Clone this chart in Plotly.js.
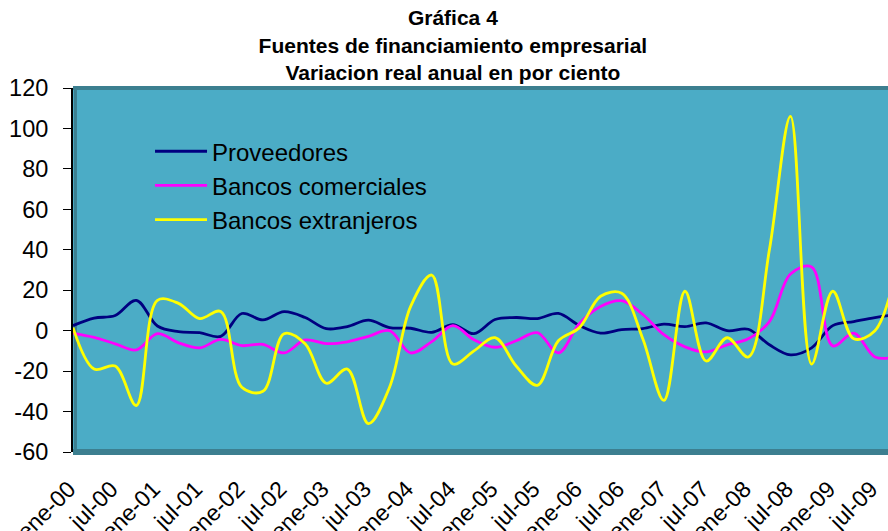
<!DOCTYPE html>
<html>
<head>
<meta charset="utf-8">
<script src="https://cdn.plot.ly/plotly-3.0.1.min.js"></script>
<style>
  html, body { margin: 0; padding: 0; background: #ffffff; }
  #chart { width: 888px; height: 531px; }
</style>
</head>
<body>
<div id="chart"></div>
<script>
// Quarterly categories (ene, abr, jul, oct)
const quarters = [
  "ene-00","abr-00","jul-00","oct-00","ene-01","abr-01","jul-01","oct-01",
  "ene-02","abr-02","jul-02","oct-02","ene-03","abr-03","jul-03","oct-03",
  "ene-04","abr-04","jul-04","oct-04","ene-05","abr-05","jul-05","oct-05",
  "ene-06","abr-06","jul-06","oct-06","ene-07","abr-07","jul-07","oct-07",
  "ene-08","abr-08","jul-08","oct-08","ene-09","abr-09","jul-09","oct-09"
];

// Tick labels shown on the x axis
const tickLabels = [
  "ene-00","jul-00","ene-01","jul-01","ene-02","jul-02","ene-03","jul-03",
  "ene-04","jul-04","ene-05","jul-05","ene-06","jul-06","ene-07","jul-07",
  "ene-08","jul-08","ene-09","jul-09"
];

const yTicks = [-60, -40, -20, 0, 20, 40, 60, 80, 100, 120];

// Series (real annual variation, %)
const proveedores = [
  2.5, 6.2, 7.5, 15, 2.3, -0.5, -1, -2.8, 8.5, 5.3,
  9.4, 6.5, 1, 2, 5.2, 1.5, 1.2, -0.8, 3, -1.5,
  5.5, 6.5, 6, 8.5, 2.5, -1.2, 0.5, 1, 3.2, 2,
  3.8, 0, 0.7, -7, -12, -8.5, 2.5, 4.5, 6.5, 8
];

const bancosComerciales = [
  -1.3, -3.3, -6.5, -9.5, -1.5, -6, -8.5, -4.3, -7.4, -6.8,
  -11, -4.6, -6.4, -5.5, -2.8, 0, -11, -5.4, 2.5, -4.5,
  -8.2, -5, -1, -11, 3.6, 12, 14.8, 8, -2, -8,
  -10.5, -7, -4, 4.5, 28, 31.5, -7.5, -1.2, -13, -13
];

const bancosExtranjeros = [
  1.5, -19, -17.5, -37, 15, 13.5, 6, 9.5, -28, -30,
  -1.5, -6.5, -26, -19, -46, -28, 12, 27.5, -16.5, -10,
  -3.5, -17.5, -27, -5, 1.5, 17, 18.5, -4, -34.5, 19.5,
  -15, -3.5, -13, 40, 106, -16.5, 19.5, -4, 0, 30
];

const seriesNames = ["Proveedores", "Bancos comerciales", "Bancos extranjeros"];
const seriesColors = ["#000080", "#FF00FF", "#FFFF00"];
const seriesData = [proveedores, bancosComerciales, bancosExtranjeros];

const traces = seriesData.map((vals, k) => ({
  type: "scatter",
  mode: "lines",
  name: seriesNames[k],
  legendgroup: "g" + k,
  x: quarters,
  y: vals,
  line: { color: seriesColors[k], width: 2.8, shape: "spline", smoothing: 1 },
  hoverinfo: "x+y+name"
}));

const band = "#3C7F90";

const layout = {
  width: 888,
  height: 531,
  margin: { l: 73, r: 0, t: 88, b: 79, pad: 0 },
  paper_bgcolor: "#ffffff",
  plot_bgcolor: "#4BACC6",
  font: { family: "Arial, 'Liberation Sans', sans-serif", color: "#000000" },
  title: {
    text: "<b>Gráfica 4</b><br><b>Fuentes de financiamiento empresarial</b><br><b>Variacion real anual en por ciento</b>",
    font: { size: 21, color: "#000000" },
    xref: "container", yref: "container",
    x: 0.51, xanchor: "center",
    y: 0.952, yanchor: "middle"
  },
  showlegend: true,
  legend: {
    x: 0.0945, xanchor: "left",
    y: 0.887, yanchor: "top",
    bgcolor: "rgba(0,0,0,0)",
    borderwidth: 0,
    font: { size: 24, color: "#000000" },
    tracegroupgap: 0,
    itemwidth: 52
  },
  xaxis: {
    type: "category",
    categoryorder: "array",
    categoryarray: quarters,
    range: [0, 38.62],
    tickmode: "array",
    tickvals: tickLabels,
    ticktext: tickLabels,
    tickangle: -45,
    tickfont: { size: 23, color: "#000000" },
    ticks: "",
    ticklabelstandoff: 18,
    ticklabelshift: -4,
    showgrid: false,
    zeroline: false,
    showline: false,
    fixedrange: true
  },
  yaxis: {
    range: [-60, 120],
    tickmode: "array",
    tickvals: yTicks,
    ticktext: yTicks.map(String),
    ticks: "outside",
    ticklen: 8,
    tickwidth: 1.3,
    tickcolor: "#000000",
    tickfont: { size: 23.5, color: "#000000" },
    ticklabelstandoff: 10,
    showgrid: false,
    zeroline: false,
    showline: true,
    linecolor: "#000000",
    linewidth: 2,
    fixedrange: true
  },
  shapes: [
    { type: "line", xref: "paper", yref: "paper", x0: 0, x1: 1, y0: 1, y1: 1,
      line: { color: band, width: 4 }, layer: "below" },
    { type: "line", xref: "paper", yref: "paper", x0: 0, x1: 1, y0: 0, y1: 0,
      line: { color: band, width: 6 }, layer: "below" },
    { type: "line", xref: "paper", yref: "paper", x0: 0.003, x1: 0.003, y0: 0, y1: 1,
      line: { color: band, width: 3 }, layer: "below" }
  ]
};

Plotly.newPlot("chart", traces, layout, { displayModeBar: false, staticPlot: false });
</script>
</body>
</html>
